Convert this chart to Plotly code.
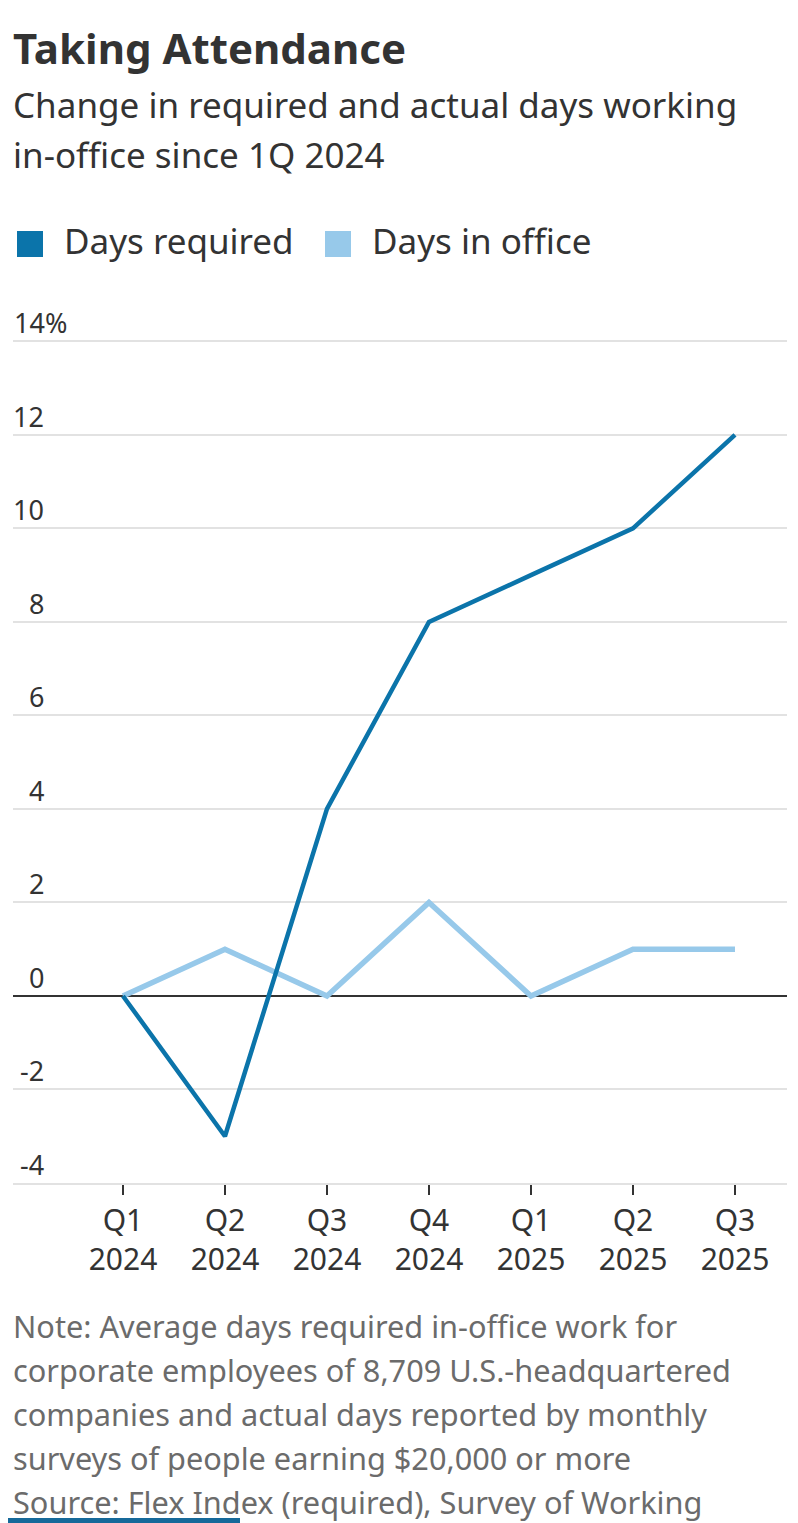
import plotly.graph_objects as go

quarters = ["Q1<br>2024", "Q2<br>2024", "Q3<br>2024", "Q4<br>2024", "Q1<br>2025", "Q2<br>2025", "Q3<br>2025"]
days_required = [0, -3, 4, 8, 9, 10, 12]
days_in_office = [0, 1, 0, 2, 0, 1, 1]
y_ticks = [-4, -2, 0, 2, 4, 6, 8, 10, 12, 14]
y_tick_labels = ["-4", "-2", "0", "2", "4", "6", "8", "10", "12", "14%"]
series_names = ["Days required", "Days in office"]

title = "Taking Attendance"
subtitle_lines = ["Change in required and actual days working", "in-office since 1Q 2024"]
note_lines = [
    "Note: Average days required in-office work for",
    "corporate employees of 8,709 U.S.-headquartered",
    "companies and actual days reported by monthly",
    "surveys of people earning $20,000 or more",
    "Source: Flex Index (required), Survey of Working",
]

DARK = "#0b74aa"
LIGHT = "#97c9ea"
FONT = "Noto Sans, Open Sans, sans-serif"

# page body has an 8px margin; figure is sized to fit the window
OFF = 8
W, H = 798 - OFF, 1523 - OFF
L, R, T, B = 5, 11, 331, 340
pw, ph = W - L - R, H - T - B


def px(sx):
    return (sx - OFF - L) / pw


def py(sy):
    return (H - B - (sy - OFF)) / ph


x_idx = list(range(len(quarters)))

fig = go.Figure()
fig.add_trace(go.Scatter(x=x_idx, y=days_in_office, mode="lines", name=series_names[1],
                         line=dict(color=LIGHT, width=5.5), showlegend=False, hoverinfo="skip"))
fig.add_trace(go.Scatter(x=x_idx, y=days_required, mode="lines", name=series_names[0],
                         line=dict(color=DARK, width=4.5), showlegend=False, hoverinfo="skip"))

annotations = []
shapes = []

annotations.append(dict(text=f"<b>{title}</b>", x=0, xref="paper", xshift=-2, xanchor="left",
                        y=py(48), yref="paper", yanchor="middle", showarrow=False,
                        font=dict(size=42, color="#333", family=FONT)))
for line, Y in zip(subtitle_lines, [105, 155]):
    annotations.append(dict(text=line, x=0, xref="paper", xshift=-2, xanchor="left",
                            y=py(Y), yref="paper", yanchor="middle", showarrow=False,
                            font=dict(size=35, color="#333", family=FONT)))

# legend
for name, col, sq_x, tx in zip(series_names, [DARK, LIGHT], [17, 325], [64, 372]):
    shapes.append(dict(type="rect", xref="paper", yref="paper", x0=px(sq_x), x1=px(sq_x + 26),
                       y0=py(257), y1=py(231), fillcolor=col, line=dict(width=0)))
    annotations.append(dict(text=name, x=px(tx), xref="paper", xshift=-2, xanchor="left",
                            y=py(240.5), yref="paper", yanchor="middle", showarrow=False,
                            font=dict(size=35, color="#333", family=FONT)))

for line, Y in zip(note_lines, [1326, 1370, 1414, 1458, 1502]):
    annotations.append(dict(text=line, x=0, xref="paper", xshift=-2, xanchor="left",
                            y=py(Y), yref="paper", yanchor="middle", showarrow=False,
                            font=dict(size=30.7, color="#6b6b6b", family=FONT)))

for v, lab in zip(y_ticks, y_tick_labels):
    if lab.endswith("%"):
        annotations.append(dict(text=lab, x=0, xref="paper", xshift=-1, xanchor="left",
                                y=v, yref="y", yanchor="bottom", yshift=-2, showarrow=False,
                                font=dict(size=27, color="#333", family=FONT)))
    else:
        annotations.append(dict(text=lab, x=px(46), xref="paper", xanchor="right",
                                y=v, yref="y", yanchor="bottom", yshift=-2, showarrow=False,
                                font=dict(size=27, color="#333", family=FONT)))

# bottom accent bar
shapes.append(dict(type="rect", xref="paper", yref="paper", x0=px(OFF), x1=px(240),
                   y0=py(1523), y1=py(1518), fillcolor="#16699a", line=dict(width=0)))

fig.update_layout(
    width=W, height=H,
    margin=dict(l=L, r=R, t=T, b=B, pad=0),
    paper_bgcolor="white", plot_bgcolor="white",
    font=dict(family=FONT, color="#333"),
    annotations=annotations,
    shapes=shapes,
    showlegend=False,
    xaxis=dict(range=[-1.078, 6.51], tickmode="array", tickvals=x_idx, ticktext=quarters,
               ticks="outside", ticklen=10, tickwidth=2, tickcolor="#333",
               tickfont=dict(size=30, color="#333", family=FONT),
               showgrid=False, zeroline=False, showline=True, linecolor="#e2e2e2", linewidth=2,
               fixedrange=True),
    yaxis=dict(range=[-4, 14.05], tickmode="array", tickvals=y_ticks, showticklabels=False,
               showgrid=True, gridcolor="#e2e2e2", gridwidth=2,
               zeroline=True, zerolinecolor="#333", zerolinewidth=2, fixedrange=True),
)

fig.write_html("out.html")
